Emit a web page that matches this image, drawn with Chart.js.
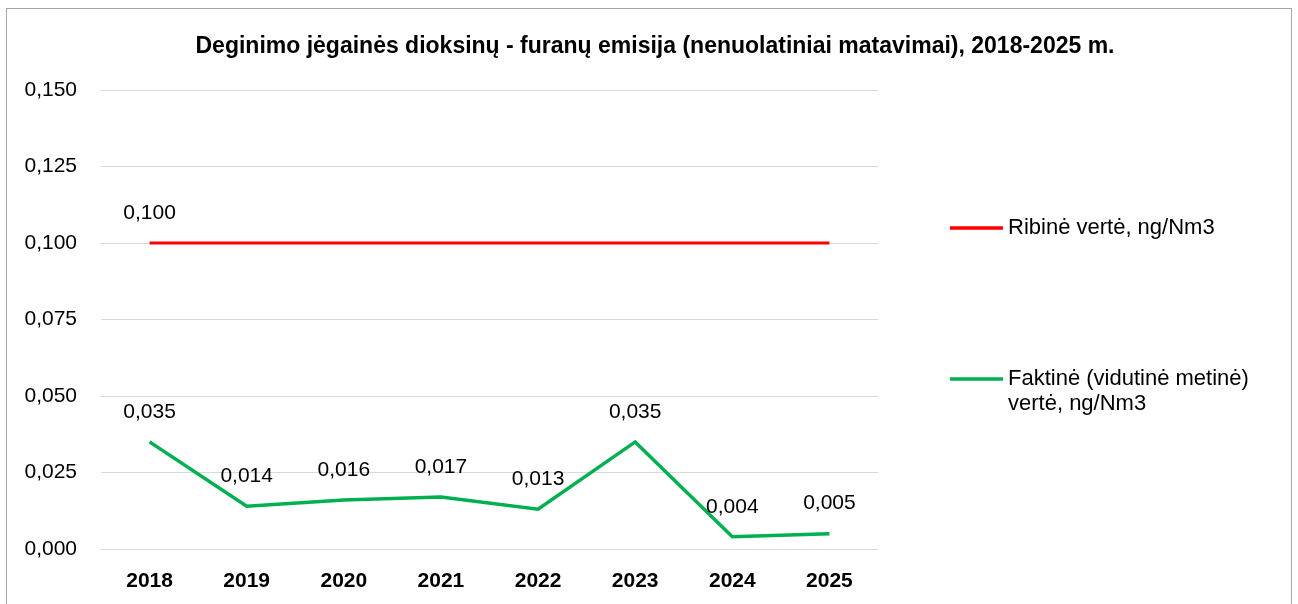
<!DOCTYPE html>
<html>
<head>
<meta charset="utf-8">
<script src="https://cdn.jsdelivr.net/npm/chart.js@4.4.1/dist/chart.umd.min.js"></script>
<style>
  html, body { margin: 0; padding: 0; background: #fff; overflow: hidden; }
  #wrap { position: relative; width: 1298px; height: 604px; }
  #frame { position: absolute; left: 6px; top: 8px; width: 1284px; height: 640px; border: 1px solid #a6a6a6; pointer-events: none; }
  canvas { position: absolute; left: 0; top: 0; }
</style>
</head>
<body>
<div id="wrap">
  <canvas id="chart" width="1298" height="604"></canvas>
  <div id="frame"></div>
</div>
<script>
const years = ['2018', '2019', '2020', '2021', '2022', '2023', '2024', '2025']
const limitValues = [0.1, 0.1, 0.1, 0.1, 0.1, 0.1, 0.1, 0.1]
const actualValues = [0.035, 0.014, 0.016, 0.017, 0.013, 0.035, 0.004, 0.005]
const limitLabelIdx = [0]
const actualLabelIdx = [0, 1, 2, 3, 4, 5, 6, 7]
const limitLegend = ['Ribinė vertė, ng/Nm3']
const actualLegend = ['Faktinė (vidutinė metinė)', 'vertė, ng/Nm3']
const titleText = 'Deginimo jėgainės dioksinų - furanų emisija (nenuolatiniai matavimai), 2018-2025 m.'

const FONT = '"Liberation Sans", Arial, sans-serif'
const fmt = (v) => v.toFixed(3).replace('.', ',')

const extrasPlugin = {
  id: 'extras',
  afterDatasetsDraw(chart) {
    const { ctx } = chart
    ctx.save()
    // title
    ctx.fillStyle = '#000'
    ctx.font = `bold 23px ${FONT}`
    ctx.textAlign = 'center'
    ctx.textBaseline = 'middle'
    ctx.fillText(titleText, 655, 47)

    // data labels
    ctx.font = `21px ${FONT}`
    chart.data.datasets.forEach((ds, di) => {
      const meta = chart.getDatasetMeta(di)
      ds.labelIdx.forEach((i) => {
        const pt = meta.data[i]
        if (!pt) return
        ctx.fillText(fmt(ds.data[i]), pt.x, pt.y - 30)
      })
    })

    // legend
    ctx.font = `22px ${FONT}`
    ctx.textAlign = 'left'
    const legendY = [228, 379]
    chart.data.datasets.forEach((ds, di) => {
      const y = legendY[di]
      ctx.strokeStyle = ds.borderColor
      ctx.lineWidth = 3.5
      ctx.beginPath()
      ctx.moveTo(950, y)
      ctx.lineTo(1003, y)
      ctx.stroke()
      ds.legendLines.forEach((line, li) => {
        ctx.fillText(line, 1008, y + li * 25)
      })
    })
    ctx.restore()
  },
}

const ctx = document.getElementById('chart').getContext('2d')
new Chart(ctx, {
  type: 'line',
  data: {
    labels: years,
    datasets: [
      {
        label: limitLegend.join(' '),
        data: limitValues,
        borderColor: '#ff0000',
        borderWidth: 3,
        pointRadius: 0,
        tension: 0,
        labelIdx: limitLabelIdx,
        legendLines: limitLegend,
      },
      {
        label: actualLegend.join(' '),
        data: actualValues,
        borderColor: '#00b050',
        borderWidth: 3.5,
        pointRadius: 0,
        tension: 0,
        labelIdx: actualLabelIdx,
        legendLines: actualLegend,
      },
    ],
  },
  options: {
    responsive: false,
    animation: false,
    layout: { padding: { top: 90, right: 420, left: 0, bottom: 0 } },
    scales: {
      x: {
        offset: true,
        grid: { display: false, drawTicks: false },
        border: { display: false },
        ticks: { color: '#000', font: { family: FONT, size: 21, weight: 'bold' }, padding: 20, maxRotation: 0 },
        afterFit(scale) { scale.height = 55 },
      },
      y: {
        min: 0,
        max: 0.15,
        grid: { color: '#d9d9d9', lineWidth: 1, drawTicks: false },
        border: { display: false },
        ticks: {
          stepSize: 0.025,
          color: '#000',
          font: { family: FONT, size: 21 },
          padding: 24,
          callback: (v) => fmt(v),
        },
        afterFit(scale) { scale.width = 101 },
      },
    },
    plugins: {
      legend: { display: false },
      title: { display: false },
      tooltip: { enabled: false },
    },
  },
  plugins: [extrasPlugin],
})
</script>
</body>
</html>
